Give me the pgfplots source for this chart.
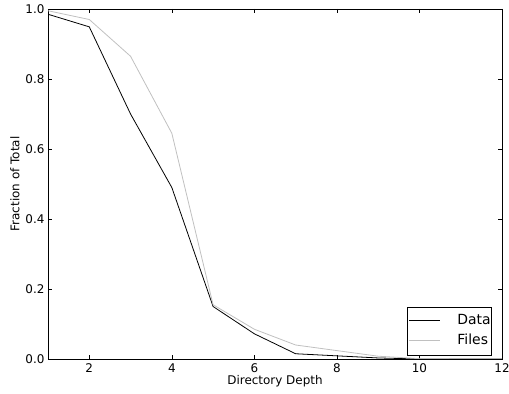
\documentclass[border=0pt]{standalone}
\usepackage{pgfplots}
\pgfplotsset{compat=1.18}
\usepackage{fontspec}
\setmainfont{DejaVu Sans}
\begin{document}
\begin{tikzpicture}
\useasboundingbox (-48bp,-35bp) rectangle (461bp,359bp);
\begin{axis}[
  at={(0,0)}, anchor=south west,
  scale only axis, width=454bp, height=350bp,
  xmin=1, xmax=12, ymin=0, ymax=1,
  xtick={2,4,6,8,10,12}, ytick={0,0.2,0.4,0.6,0.8,1.0},
  yticklabel style={/pgf/number format/fixed, /pgf/number format/fixed zerofill, /pgf/number format/precision=1},
  /pgf/number format/assume math mode=true,
  tick align=inside, tick style={black, line width=0.6pt}, major tick length=4bp,
  axis line style={black, line width=0.8pt},
  ticklabel style={font=\fontsize{12}{14}\selectfont},
  xticklabel style={yshift=-1bp},
  label style={font=\fontsize{12}{14}\selectfont},
  xlabel={Directory Depth}, ylabel={Fraction of Total},
  xlabel style={yshift=4bp}, ylabel style={yshift=-1bp},
  legend style={at={(0.978,0.011)}, anchor=south east, draw=black, line width=0.6pt,
    font=\fontsize{14}{16}\selectfont, row sep=7bp, column sep=17bp,
    inner xsep=1bp, inner ysep=7.5bp,
    nodes={inner xsep=0bp, inner ysep=0bp, text height=10bp, text depth=3bp},
    cells={anchor=west}},
  legend cell align=left,
  legend image code/.code={\path (-9bp,0bp) -- (0bp,0bp); \draw[#1] (0bp,0bp) -- (22bp,0bp);},
]
\addplot[black, line width=0.8pt] coordinates {(1,0.985) (2,0.949) (3,0.70) (4,0.49) (5,0.15) (6,0.072) (7,0.015) (8,0.009) (9,0.003) (10,0.0) (11,0.0) (12,0.0)};
\addlegendentry{Data}
\addplot[color={rgb,255:red,192;green,192;blue,192}, line width=0.8pt] coordinates {(1,0.995) (2,0.970) (3,0.865) (4,0.645) (5,0.155) (6,0.085) (7,0.040) (8,0.024) (9,0.008) (10,0.001) (11,0.0) (12,0.0)};
\addlegendentry{Files}
\end{axis}
\end{tikzpicture}
\end{document}
